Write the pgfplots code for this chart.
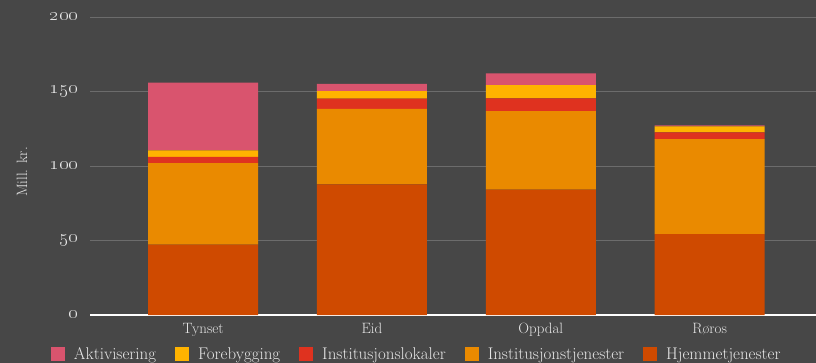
\documentclass[border=0pt]{standalone}
\usepackage{pgfplots}
\pgfplotsset{compat=1.18}

\definecolor{bg}{HTML}{474747}
\definecolor{gridc}{HTML}{6C6C6C}
\definecolor{txt}{HTML}{E6E6E6}
\definecolor{cAkt}{HTML}{D9546E}
\definecolor{cFor}{HTML}{FFB300}
\definecolor{cLok}{HTML}{DF321F}
\definecolor{cTje}{HTML}{EA8A00}
\definecolor{cHje}{HTML}{CF4A00}

% wide old-style numerals for the value axis
\newcommand{\num}[1]{\scalebox{1.2}[1]{\oldstylenums{#1}}}

% Mill. kr. per kommune og tjenesteområde
\pgfplotstableread{
x Hjem InstTj InstLok Fore Akt
0 47.2 54.8 4.2 4.3 45.4
1 87.7 50.6 6.9 5.1 4.9
2 84.1 52.8 8.5 8.8 8.0
3 54.2 63.9 4.5 4.0 0.6
}\kostnad

\begin{document}
\begin{tikzpicture}
\path[use as bounding box] (0,0) rectangle (816bp,363bp);
\fill[bg] (0,0) rectangle (816bp,363bp);
\begin{axis}[
  at={(90bp,48bp)}, anchor=south west,
  scale only axis, width=726bp, height=298bp,
  ybar stacked, bar width=110bp,
  xmin=-0.67, xmax=3.63, ymin=0, ymax=200,
  axis line style={draw=none},
  xtick={0,1,2,3},
  xticklabels={Tynset,Eid,Oppdal,Røros},
  ytick={0,50,100,150,200},
  yticklabels={\num{0},\num{50},\num{100},\num{150},\num{200}},
  major tick length=0pt,
  ymajorgrids, grid style={gridc, line width=0.8pt},
  xticklabel style={txt, font=\fontsize{15}{17}\selectfont, yshift=-5bp},
  yticklabel style={txt, font=\fontsize{18}{20}\selectfont, xshift=-8bp},
  ylabel={Mill. kr.},
  every axis y label/.style={at={(axis description cs:-0.0937,0.48)}, rotate=90, anchor=center,
    txt, font=\fontsize{15}{17}\selectfont},
  legend columns=5,
  reverse legend,
  legend style={at={(0.45,-0.131)}, anchor=center, draw=none, fill=none,
    text=txt, font=\fontsize{17}{19}\selectfont,
    /tikz/every odd column/.append style={column sep=7bp},
    /tikz/every even column/.append style={column sep=17bp},
    inner sep=0pt},
  legend image code/.code={\fill[#1] (0bp,-7bp) rectangle (14bp,7bp);},
  every axis plot/.append style={draw=none},
  clip=false,
]
\addplot[fill=cHje] table[x=x, y=Hjem] {\kostnad};
\addplot[fill=cTje] table[x=x, y=InstTj] {\kostnad};
\addplot[fill=cLok] table[x=x, y=InstLok] {\kostnad};
\addplot[fill=cFor] table[x=x, y=Fore] {\kostnad};
\addplot[fill=cAkt] table[x=x, y=Akt] {\kostnad};
\legend{Hjemmetjenester,Institusjonstjenester,Institusjonslokaler,Forebygging,Aktivisering}
\draw[white, line width=1.2pt] (axis cs:-0.67,0) -- (axis cs:3.63,0);
\end{axis}
\end{tikzpicture}
\end{document}
